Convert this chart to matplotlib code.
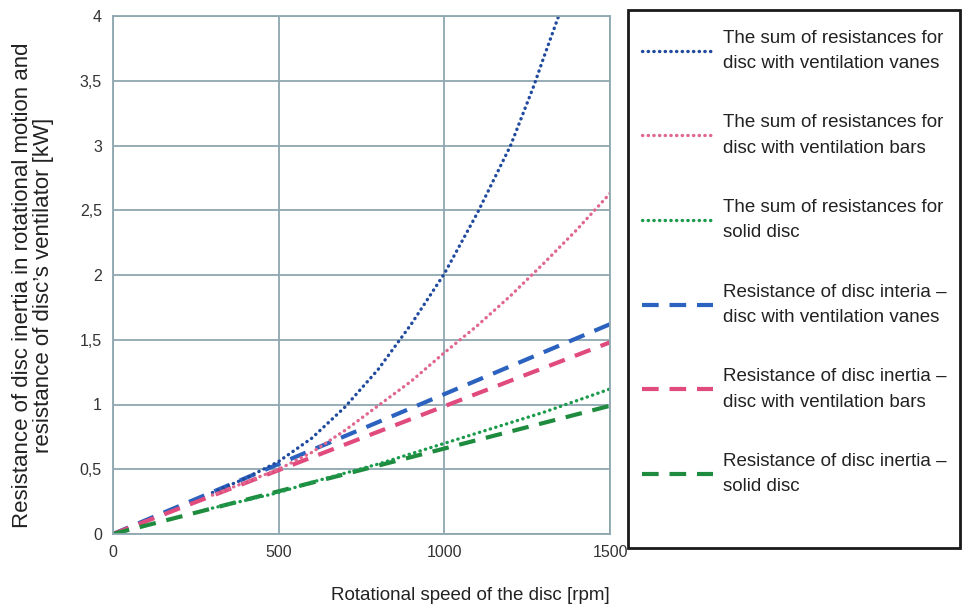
import matplotlib
matplotlib.use("Agg")
import matplotlib.pyplot as plt
from matplotlib.patches import Rectangle
import numpy as np

plt.rcParams['font.family'] = ['Liberation Sans', 'DejaVu Sans']

# Data
rpm_lin = [0, 1500]
inertia_vanes = [0.0, 1.62]
inertia_bars = [0.0, 1.48]
inertia_solid = [0.0, 0.99]

rpm_sum_vanes = [300, 400, 500, 600, 700, 800, 900, 1000, 1100, 1200, 1270, 1300, 1345]
sum_vanes = [0.32, 0.43, 0.56, 0.74, 0.98, 1.27, 1.62, 2.01, 2.48, 3.0, 3.46, 3.68, 4.0]

rpm_sum_bars = [300, 400, 500, 600, 700, 800, 900, 1000, 1100, 1200, 1300, 1400, 1500]
sum_bars = [0.30, 0.40, 0.50, 0.63, 0.80, 0.99, 1.18, 1.40, 1.61, 1.84, 2.09, 2.35, 2.63]

rpm_sum_solid = [300, 400, 500, 600, 700, 800, 900, 1000, 1100, 1200, 1300, 1400, 1500]
sum_solid = [0.20, 0.26, 0.32, 0.40, 0.47, 0.54, 0.62, 0.70, 0.78, 0.86, 0.94, 1.03, 1.12]

labels = [
    "The sum of resistances for\ndisc with ventilation vanes",
    "The sum of resistances for\ndisc with ventilation bars",
    "The sum of resistances for\nsolid disc",
    "Resistance of disc interia \u2013\ndisc with ventilation vanes",
    "Resistance of disc inertia \u2013\ndisc with ventilation bars",
    "Resistance of disc inertia \u2013\nsolid disc",
]
x_ticks = [0, 500, 1000, 1500]
y_ticks = [0, 0.5, 1, 1.5, 2, 2.5, 3, 3.5, 4]
y_ticklabels = ["0", "0,5", "1", "1,5", "2", "2,5", "3", "3,5", "4"]

c_blue_dot = "#1f4a9e"
c_pink_dot = "#e0688f"
c_green_dot = "#1c9a4c"
c_blue_dash = "#2c62bf"
c_pink_dash = "#e04a7c"
c_green_dash = "#1f8b3f"

W, H = 965, 611
fig = plt.figure(figsize=(W/100, H/100), dpi=100)
ax = fig.add_axes([113/W, 1-534/H, (610-113)/W, (534-16)/H])

dash = (0, (4, 2.6))
h4, = ax.plot(rpm_lin, inertia_vanes, color=c_blue_dash, lw=3, linestyle=dash, dash_capstyle='butt')
h5, = ax.plot(rpm_lin, inertia_bars, color=c_pink_dash, lw=3, linestyle=dash, dash_capstyle='butt')
h6, = ax.plot(rpm_lin, inertia_solid, color=c_green_dash, lw=3, linestyle=dash, dash_capstyle='butt')
dot = (0, (0.1, 1.6))
h1, = ax.plot(rpm_sum_vanes, sum_vanes, color=c_blue_dot, lw=2.4, linestyle=dot, dash_capstyle='round')
h2, = ax.plot(rpm_sum_bars, sum_bars, color=c_pink_dot, lw=2.4, linestyle=dot, dash_capstyle='round')
h3, = ax.plot(rpm_sum_solid, sum_solid, color=c_green_dot, lw=2.4, linestyle=dot, dash_capstyle='round')

ax.set_xlim(0, 1500)
ax.set_ylim(0, 4)
ax.set_xticks(x_ticks)
ax.set_yticks(y_ticks)
ax.set_yticklabels(y_ticklabels)
ax.grid(True, color="#8fa7b0", lw=1.3)
ax.set_axisbelow(True)
for s in ax.spines.values():
    s.set_color("#8fa7b0")
    s.set_linewidth(1.3)
ax.tick_params(length=0, labelsize=11.5, colors="#333333", pad=8)

fig.text(470/W, 1-596/H, "Rotational speed of the disc [rpm]", ha="center", va="center",
         fontsize=13.5, color="#222222")
fig.text(33/W, 1-285/H, "Resistance of disc inertia in rotational motion and\nresistance of disc\u2019s ventilator [kW]",
         ha="center", va="center", rotation=90, fontsize=16, color="#222222", linespacing=1.05)

leg = fig.legend([h1, h2, h3, h4, h5, h6], labels,
                 loc="upper left", bbox_to_anchor=(622/W, 1-10/H),
                 frameon=False, fontsize=13.5, handlelength=3.8,
                 handletextpad=0.55, labelspacing=2.25, borderpad=1.05,
                 borderaxespad=0.0)
for t in leg.get_texts():
    t.set_color("#222222")
    t.set_linespacing(1.65)

fig.patches.append(Rectangle((628/W, 1-548/H), (960-628)/W, (548-10)/H,
                             transform=fig.transFigure, fill=False,
                             edgecolor="#1a1a1a", linewidth=2))

fig.savefig("out.png", dpi=100)
